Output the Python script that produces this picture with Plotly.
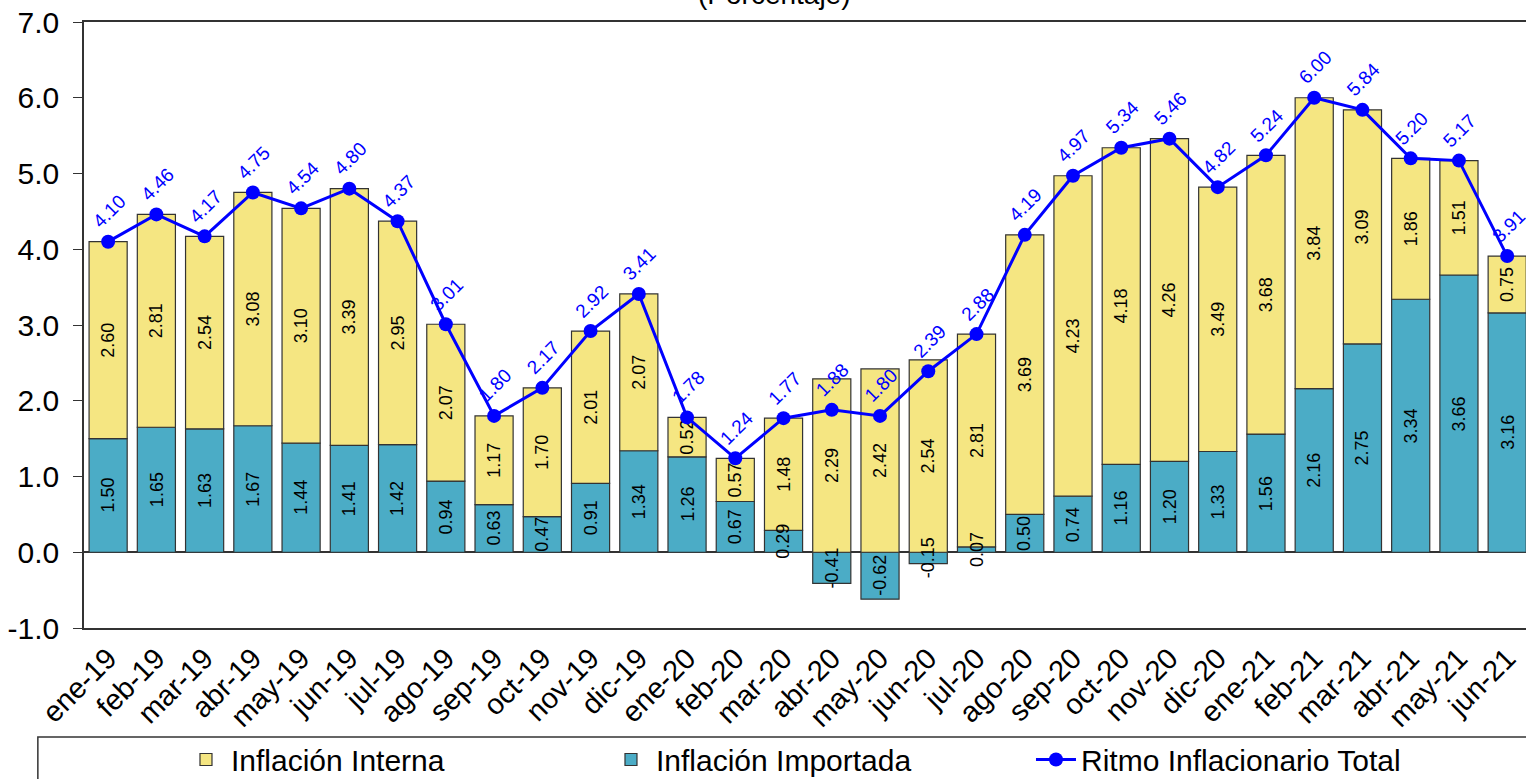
import plotly.graph_objects as go

meses = ['ene-19', 'feb-19', 'mar-19', 'abr-19', 'may-19', 'jun-19', 'jul-19', 'ago-19',
         'sep-19', 'oct-19', 'nov-19', 'dic-19', 'ene-20', 'feb-20', 'mar-20', 'abr-20',
         'may-20', 'jun-20', 'jul-20', 'ago-20', 'sep-20', 'oct-20', 'nov-20', 'dic-20',
         'ene-21', 'feb-21', 'mar-21', 'abr-21', 'may-21', 'jun-21']
interna = [2.60, 2.81, 2.54, 3.08, 3.10, 3.39, 2.95, 2.07, 1.17, 1.70, 2.01, 2.07, 0.52, 0.57,
           1.48, 2.29, 2.42, 2.54, 2.81, 3.69, 4.23, 4.18, 4.26, 3.49, 3.68, 3.84, 3.09, 1.86,
           1.51, 0.75]
importada = [1.50, 1.65, 1.63, 1.67, 1.44, 1.41, 1.42, 0.94, 0.63, 0.47, 0.91, 1.34, 1.26, 0.67,
             0.29, -0.41, -0.62, -0.15, 0.07, 0.50, 0.74, 1.16, 1.20, 1.33, 1.56, 2.16, 2.75,
             3.34, 3.66, 3.16]
total = [4.10, 4.46, 4.17, 4.75, 4.54, 4.80, 4.37, 3.01, 1.80, 2.17, 2.92, 3.41, 1.78, 1.24,
         1.77, 1.88, 1.80, 2.39, 2.88, 4.19, 4.97, 5.34, 5.46, 4.82, 5.24, 6.00, 5.84, 5.20,
         5.17, 3.91]
y_ticks = [-1, 0, 1, 2, 3, 4, 5, 6, 7]

FONT = 'Arial, Liberation Sans, sans-serif'
AMARILLO = '#F5E682'
CELESTE = '#4BACC6'
AZUL = '#0000FF'
BORDE = '#333333'

fig = go.Figure()

# barras apiladas: importada abajo, interna arriba
fig.add_trace(go.Bar(x=meses, y=importada, name='Inflación Importada', legendrank=2,
                     marker=dict(color=CELESTE, line=dict(color=BORDE, width=1.2))))
fig.add_trace(go.Bar(x=meses, y=interna, name='Inflación Interna', legendrank=1,
                     marker=dict(color=AMARILLO, line=dict(color=BORDE, width=1.2)),
                     text=[f'{v:.2f}' for v in interna], textposition='inside',
                     insidetextanchor='middle', textangle=-90, constraintext='none',
                     textfont=dict(family=FONT, size=18, color='black')))
fig.add_trace(go.Scatter(x=meses, y=total, name='Ritmo Inflacionario Total', legendrank=3,
                         mode='lines+markers', line=dict(color=AZUL, width=3),
                         marker=dict(color=AZUL, size=14)))

# etiquetas de importada encima de todo (se salen de la barra cuando es pequeña)
for m, v in zip(meses, importada):
    fig.add_annotation(x=m, y=v / 2, text=f'{v:.2f}', showarrow=False, textangle=-90,
                       font=dict(family=FONT, size=18, color='black'))

# etiquetas de la línea, rotadas
for m, v in zip(meses, total):
    fig.add_annotation(x=m, y=v, text=f'{v:.2f}', showarrow=False, textangle=-45,
                       xshift=1, yshift=30, font=dict(family=FONT, size=19, color=AZUL))

fig.add_annotation(x=0.479, y=1, xref='paper', yref='paper', yanchor='bottom', yshift=10,
                   text='(Porcentaje)', showarrow=False, font=dict(family=FONT, size=28, color='black'))

# caja de la leyenda
fig.add_shape(type='rect', xref='paper', yref='paper', x0=-0.032, x1=1.2, y0=-0.35, y1=-0.18,
              line=dict(color=BORDE, width=1.5), fillcolor='rgba(0,0,0,0)')

fig.update_layout(
    width=1526, height=779,
    margin=dict(l=84, r=0, t=22, b=151, autoexpand=False),
    plot_bgcolor='white', paper_bgcolor='white',
    barmode='relative', bargap=0.21,
    uniformtext=dict(minsize=18, mode='show'),
    font=dict(family=FONT, color='black'),
    showlegend=True,
    legend=dict(orientation='h', xref='container', yref='container', x=0.1186, xanchor='left',
                y=0.0584, yanchor='top', font=dict(family=FONT, size=30), entrywidth=370,
                bgcolor='rgba(0,0,0,0)', itemwidth=40),
)
fig.update_xaxes(range=[-0.5, 29.39], tickangle=-45, showline=True, mirror=True,
                 linecolor=BORDE, linewidth=1.5, ticks='', showgrid=False, automargin=False,
                 tickfont=dict(family=FONT, size=29))
fig.update_yaxes(range=[-1, 7], tickvals=y_ticks, ticktext=[f'{t:.1f}' for t in y_ticks],
                 ticks='outside', ticklen=9, tickcolor=BORDE, showline=True, linecolor=BORDE,
                 linewidth=1.5, showgrid=False, zeroline=True, zerolinecolor=BORDE,
                 zerolinewidth=1.5, automargin=False, ticklabelstandoff=8,
                 ticklabeloverflow='allow', tickfont=dict(family=FONT, size=30))

# sin margen del body para que la figura ocupe la ventana completa
fig.write_html('out.html', config={'displayModeBar': False},
               post_script="document.body.style.margin='0';")
